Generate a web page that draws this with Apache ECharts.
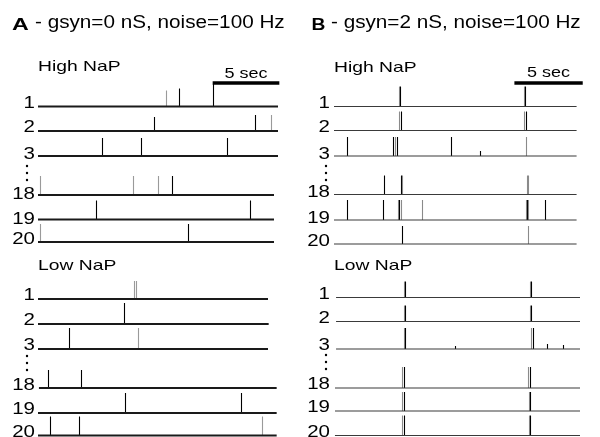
<!DOCTYPE html>
<html><head><meta charset="utf-8">
<script src="https://cdn.jsdelivr.net/npm/echarts@6/dist/echarts.min.js"></script>
<style>html,body{margin:0;padding:0;background:#fff}#c{width:600px;height:437px}</style>
</head><body><div id="c"></div>
<script>
// ---------------- data ----------------
const traceLabels = ['1', '2', '3', '18', '19', '20'];
const groupLabels = ['High NaP', 'Low NaP'];
const panelLetters = ['A', 'B'];
const panelTitles = ['- gsyn=0 nS, noise=100 Hz', '- gsyn=2 nS, noise=100 Hz'];
const durationSec = 18;
const scaleBarSec = 5;
const scaleBarLabel = '5 sec';
const scaleBarStart = [13.1, 13.2];   // seconds, panel A, panel B

// spikes per trace: [time (s), height (a.u., 0-25), shade (0 = black, 1 = gray)]
const A_high_spikes = [
  [[9.6, 16, 1], [10.58, 18, 0], [13.1, 23, 0]],
  [[8.7, 14, 0], [16.3, 16, 0], [17.5, 16, 1]],
  [[4.78, 18, 0], [7.7, 18, 0], [14.15, 18, 0]],
  [[0.15, 19, 1], [7.1, 19, 1], [8.98, 19, 1], [10.07, 19, 0]],
  [[4.33, 19, 0], [15.9, 19, 0]],
  [[0.15, 18, 1], [11.23, 18, 0]]
];
const A_low_spikes = [
  [[7.18, 18, 1], [7.33, 18, 1]],
  [[6.43, 21, 0]],
  [[2.33, 21, 0], [7.5, 21, 1]],
  [[0.77, 18, 0], [3.25, 18, 0]],
  [[6.55, 20, 0], [15.25, 20, 0]],
  [[0.9, 19, 0], [3.08, 19, 0], [16.8, 19, 1]]
];
const B_high_spikes = [
  [[4.75, 20, 1], [4.85, 20, 0], [13.9, 20, 1], [14.0, 20, 0]],
  [[4.75, 19, 1], [4.88, 19, 0], [13.92, 19, 1], [14.02, 19, 0]],
  [[0.93, 19, 0], [4.32, 19, 0], [4.46, 19, 1], [4.59, 19, 0], [8.54, 19, 0], [10.68, 5, 0], [14.02, 19, 1]],
  [[3.68, 19, 0], [4.88, 19, 0], [4.97, 19, 1], [14.1, 19, 1], [14.21, 19, 1]],
  [[0.95, 20, 0], [3.58, 20, 0], [4.66, 20, 1], [4.78, 20, 0], [4.9, 20, 1], [6.46, 20, 1], [14.02, 20, 1], [14.12, 20, 0], [14.21, 20, 1], [15.46, 20, 0]],
  [[4.95, 18, 0], [14.17, 18, 1]]
];
const B_low_spikes = [
  [[5.12, 16, 1], [5.22, 16, 0], [14.34, 16, 1], [14.44, 16, 0]],
  [[5.12, 16, 1], [5.22, 16, 0], [14.34, 16, 1], [14.44, 16, 0]],
  [[5.12, 21, 1], [5.22, 21, 0], [8.85, 3, 0], [14.43, 21, 1], [14.53, 21, 0], [15.56, 5, 0], [16.77, 4, 0]],
  [[5.0, 21, 1], [5.1, 21, 0], [14.21, 21, 1], [14.32, 21, 0]],
  [[5.0, 19, 1], [5.1, 19, 0], [14.24, 19, 1], [14.34, 19, 0]],
  [[5.0, 20, 1], [5.1, 20, 0], [14.24, 20, 1], [14.34, 20, 0]]
];
// recorded span of each trace [start, end] in seconds
const A_high_spans = [[0, 18], [0, 18], [0, 18], [0, 17.7], [0, 17.7], [0, 17.7]];
const A_low_spans = [[0, 17.25], [0, 17.3], [0, 17.25], [0.07, 17.9], [0, 17.9], [0, 17.9]];
const B_high_spans = [[0, 17.75], [0, 17.75], [0, 17.75], [0, 17.75], [0, 17.75], [0, 17.75]];
const B_low_spans = [[0.15, 18], [0.15, 18], [0.15, 18], [0.07, 18], [0.07, 18], [0.07, 18]];

// ---------------- layout ----------------
const FONT = '"Liberation Sans", Arial, Helvetica, sans-serif';
const panels = [
  { left: 38, width: 240, numRight: 35, dotX: 27, lineW: 2, lineC: '#1a1a1a', gray: '#9a9a9a',
    letterX: 12, letterScale: 1.45, titleX: 35, barTextY: 78.3,
    groups: [
      { spikes: A_high_spikes, spans: A_high_spans, base: [106.5, 131, 156, 195, 219.5, 242], numOff: [1.5, 1.5, 3.5, 4.5, 4.5, 2.5], labelY: 71.7, dotsY: [166, 173, 180] },
      { spikes: A_low_spikes, spans: A_low_spans, base: [299, 324, 349, 388, 413, 435.5], numOff: [1.5, 1.5, 1.5, 2, 1.5, 1.5], labelY: 270.7, dotsY: [356, 363, 370] }
    ] },
  { left: 334, width: 246, numRight: 330, dotX: 326, lineW: 1.2, lineC: '#3a3a3a', gray: '#8a8a8a',
    letterX: 311.5, letterScale: 1.2, titleX: 331, barTextY: 77.7,
    groups: [
      { spikes: B_high_spikes, spans: B_high_spans, base: [106.5, 130.5, 156, 194.5, 220, 244], numOff: [1.5, 1.5, 3, 3, 3, 2], labelY: 72.3, dotsY: [166, 173, 180] },
      { spikes: B_low_spikes, spans: B_low_spans, base: [297.5, 321.5, 349, 388, 411, 435.5], numOff: [1.5, 1.5, 1.5, 1.5, 1.5, 1.5], labelY: 270.5, dotsY: [355, 362, 369] }
    ] }
];
const H = 25; // grid height (px) == y-axis range
const DESC = 0.21; // font descent ratio (bottom of em box below baseline)

const grid = [], xAxis = [], yAxis = [], series = [], graphic = [];
function addGrid(top, left, width) {
  const i = grid.length;
  grid.push({ left: left, top: top, width: width, height: H });
  xAxis.push({ type: 'value', gridIndex: i, min: 0, max: durationSec, show: false });
  yAxis.push({ type: 'value', gridIndex: i, min: 0, max: H, show: false });
  return i;
}
// text placed by its baseline, optionally stretched horizontally
function txt(str, x, baseline, size, opts) {
  opts = opts || {};
  graphic.push({ type: 'text', x: x, y: baseline + DESC * size, scaleX: opts.sx || 1, silent: true,
    style: { text: str, fontSize: size, fontFamily: FONT, fontWeight: opts.bold ? 'bold' : 'normal',
      fill: '#000', align: opts.align || 'left', verticalAlign: 'bottom' } });
}

panels.forEach((p, pi) => {
  // title
  txt(panelLetters[pi], p.letterX, 30.7, 16, { bold: true, sx: p.letterScale });
  txt(panelTitles[pi], p.titleX, 28.3, 18, { sx: 1.15 });

  p.groups.forEach((g, gi) => {
    txt(groupLabels[gi], p.left, g.labelY, 14.5, { sx: 1.33 });
    g.dotsY.forEach(y => graphic.push({ type: 'circle', silent: true, shape: { cx: p.dotX, cy: y, r: 1.2 }, style: { fill: '#000' } }));

    g.base.forEach((b, ti) => {
      const gidx = addGrid(b - H, p.left, p.width);
      txt(traceLabels[ti], p.numRight, b + g.numOff[ti], 16, { align: 'right', sx: 1.28 });
      // baseline
      series.push({ type: 'line', xAxisIndex: gidx, yAxisIndex: gidx, symbol: 'none', clip: false, silent: true,
        lineStyle: { color: p.lineC, width: p.lineW },
        data: [[g.spans[ti][0], 0], [g.spans[ti][1], 0]] });
      // spikes
      series.push({ type: 'custom', xAxisIndex: gidx, yAxisIndex: gidx, clip: false, silent: true,
        data: g.spikes[ti],
        renderItem: (params, api) => {
          const p0 = api.coord([api.value(0), 0]);
          const p1 = api.coord([api.value(0), api.value(1)]);
          const x = Math.round(p0[0]) + 0.5;
          return { type: 'line', shape: { x1: x, y1: p0[1], x2: x, y2: p1[1] },
            style: { stroke: api.value(2) ? p.gray : '#000', lineWidth: 1.1 } };
        } });

      // scale bar above first High NaP trace
      if (gi === 0 && ti === 0) {
        const sIdx = addGrid(b - H - 23.5, p.left, p.width);
        series.push({ type: 'line', xAxisIndex: sIdx, yAxisIndex: sIdx, symbol: 'none', clip: false, silent: true,
          lineStyle: { color: '#000', width: 3.5 },
          data: [[scaleBarStart[pi], 0], [scaleBarStart[pi] + scaleBarSec, 0]] });
        // label centred over the bar, positioned through the axis scale
        const cx = p.left + p.width * (scaleBarStart[pi] + scaleBarSec / 2) / durationSec;
        graphic.push({ type: 'text', x: cx, y: p.barTextY + DESC * 15, scaleX: 1.2, silent: true,
          style: { text: scaleBarLabel, fontSize: 15, fontFamily: FONT, fill: '#000', align: 'center', verticalAlign: 'bottom' } });
      }
    });
  });
});

const chart = echarts.init(document.getElementById('c'), null, { renderer: 'canvas' });
chart.setOption({ animation: false, backgroundColor: '#fff', grid, xAxis, yAxis, series, graphic });
</script>
</body></html>
